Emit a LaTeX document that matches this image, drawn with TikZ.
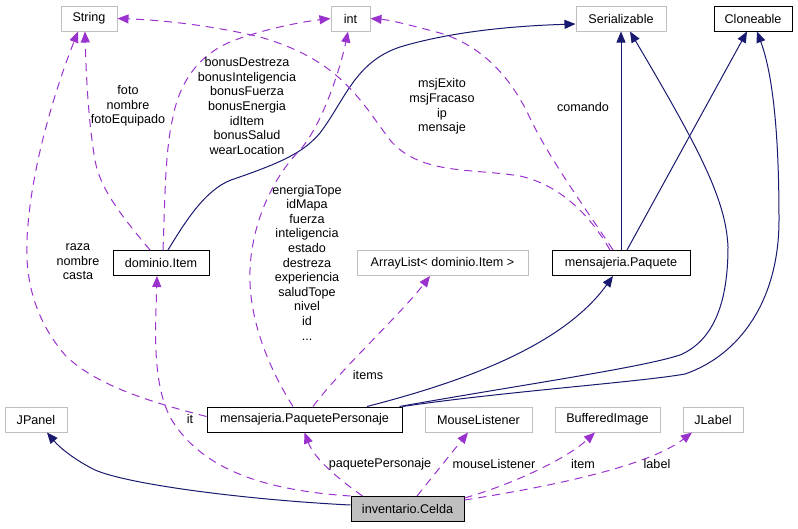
\documentclass[tikz,border=0pt]{standalone}
\usepackage{fontspec}
\setmainfont{Liberation Sans}
\usetikzlibrary{arrows.meta}
\definecolor{inhnavy}{RGB}{25,25,112}
\definecolor{useorchid}{RGB}{154,50,205}
\definecolor{extgray}{RGB}{191,191,191}

\begin{document}
\begin{tikzpicture}[x=1pt,y=-1pt,
  font=\fontsize{12.6}{14.6}\selectfont,
  cls/.style={draw=black,line width=1pt,fill=white,minimum height=25pt,inner sep=0pt},
  extcls/.style={draw=extgray,line width=1pt,fill=white,minimum height=25pt,inner sep=0pt},
  inh/.style={draw=inhnavy,line width=1pt,-{Triangle[length=11pt,width=9pt]}},
  usedby/.style={draw=useorchid,line width=1pt,dash pattern=on 8pt off 6pt,-{Triangle[length=11pt,width=9pt]}},
  lbl/.style={align=center,inner sep=0pt}]
  \useasboundingbox (0,0) rectangle (798,528);
  % classes
  \node[extcls,minimum width=56pt] (str) at (89,18.5) {String};
  \node[extcls,minimum width=39pt] (int) at (350.5,18.5) {int};
  \node[extcls,minimum width=90pt] (ser) at (621,18.5) {Serializable};
  \node[cls,minimum width=78pt] (clo) at (753,18.5) {Cloneable};
  \node[cls,minimum width=96pt] (item) at (161,263) {dominio.Item};
  \node[extcls,minimum width=171pt] (alist) at (442.5,263) {ArrayList< dominio.Item >};
  \node[cls,minimum width=138pt] (paq) at (621,263) {mensajeria.Paquete};
  \node[cls,minimum width=195pt] (pp) at (304.5,419.5) {mensajeria.PaquetePersonaje};
  \node[extcls,minimum width=62pt] (jpanel) at (36,419.5) {JPanel};
  \node[extcls,minimum width=107pt] (mouse) at (478.5,419.5) {MouseListener};
  \node[extcls,minimum width=105pt] (buff) at (607.5,419.5) {BufferedImage};
  \node[extcls,minimum width=60pt] (jlabel) at (713,419.5) {JLabel};
  \node[cls,fill=extgray,minimum width=113pt] (celda) at (407.5,509) {inventario.Celda};

  % dominio.Item
  \draw[inh] ([xshift=7pt]item.north) .. controls (185,222) and (205,190) .. (231,180) .. controls (290,160) and (305,150) .. (320,133) .. controls (345,100) and (355,62) .. (400,47) .. controls (450,32) and (510,26) .. ([yshift=-5.5pt]ser.west);
  \draw[usedby] ([xshift=-11pt]item.north) .. controls (125,220) and (100,190) .. (95,160) .. controls (88,120) and (86,70) .. ([xshift=-4pt]str.south);
  \draw[usedby] ([xshift=2pt]item.north) .. controls (165,200) and (165,150) .. (173,117) .. controls (180,80) and (200,55) .. (230,42) .. controls (260,30) and (300,22) .. (int.west);
  \node[lbl] (fotolbl) at (128,106) {foto\\nombre\\fotoEquipado};
  \node[lbl] (bonuslbl) at (247,106) {bonusDestreza\\bonusInteligencia\\bonusFuerza\\bonusEnergia\\idItem\\bonusSalud\\wearLocation};

  % mensajeria.Paquete
  \draw[inh] (paq.north) -- (ser.south);
  \draw[inh] ([xshift=6pt]paq.north) -- ([xshift=-6pt]clo.south);
  \draw[usedby] ([xshift=-11pt]paq.north) .. controls (590,215) and (560,185) .. (520,176) .. controls (470,168) and (420,175) .. (390,140) .. controls (360,100) and (340,60) .. (260,37) .. controls (210,25) and (160,20) .. (str.east);
  \draw[usedby] ([xshift=-8pt]paq.north) .. controls (590,215) and (550,160) .. (530,118) .. controls (510,75) and (480,45) .. (440,33) .. controls (410,25) and (390,20) .. (int.east);
  \node[lbl] (msjlbl) at (442,106.5) {msjExito\\msjFracaso\\ip\\mensaje};
  \node[lbl] (comandolbl) at (583,107) {comando};

  % mensajeria.PaquetePersonaje
  \draw[inh] ([xshift=62.5pt]pp.north) .. controls (450,385) and (560,350) .. ([xshift=-8pt]paq.south);
  \draw[inh] ([xshift=-3pt]pp.north east) .. controls (520,385) and (640,368) .. (680,355) .. controls (715,340) and (728,300) .. (728,247) .. controls (726,200) and (700,150) .. ([xshift=9pt]ser.south);
  \draw[inh] (pp.north east) .. controls (500,392) and (640,382) .. (685,374) .. controls (740,355) and (779,300) .. (779,220) .. controls (779,150) and (775,80) .. ([xshift=4pt]clo.south);
  \draw[usedby] ([yshift=3pt]pp.west) .. controls (150,402) and (95,385) .. (65,355) .. controls (35,320) and (25,280) .. (27,240) .. controls (30,170) and (55,90) .. ([xshift=-11pt]str.south);
  \draw[usedby] ([xshift=-11.5pt]pp.north) .. controls (270,370) and (248,320) .. (250,270) .. controls (252,220) and (275,175) .. (300,150) .. controls (322,125) and (340,70) .. ([xshift=-2.5pt]int.south);
  \draw[usedby] ([xshift=8.5pt]pp.north) .. controls (340,370) and (400,315) .. ([xshift=-12.5pt]alist.south);
  \node[lbl] (razalbl) at (78,262) {raza\\nombre\\casta};
  \node[lbl] (attrlbl) at (307,262.5) {energiaTope\\idMapa\\fuerza\\inteligencia\\estado\\destreza\\experiencia\\saludTope\\nivel\\id\\...};
  \node[lbl] (itemslbl) at (368,375) {items};

  % inventario.Celda
  \draw[inh] ([yshift=4pt]celda.west) .. controls (250,500) and (130,485) .. (95,470) .. controls (75,460) and (60,448) .. ([xshift=11pt]jpanel.south);
  \draw[usedby] (celda.north west) .. controls (260,490) and (205,468) .. (175,425) .. controls (150,390) and (156,320) .. ([xshift=-4pt]item.south);
  \draw[usedby] ([xshift=12pt]celda.north west) .. controls (340,480) and (315,460) .. (pp.south);
  \draw[usedby] ([xshift=9.5pt]celda.north) -- ([xshift=-10.5pt]mouse.south);
  \draw[usedby] ([yshift=11pt]celda.east) .. controls (510,485) and (565,460) .. ([xshift=-12.5pt]buff.south);
  \draw[usedby] ([yshift=9pt]celda.east) .. controls (560,485) and (650,465) .. ([xshift=-21pt]jlabel.south);
  \node[lbl] (itlbl) at (190,419) {it};
  \node[lbl] (pplbl) at (380,464) {paquetePersonaje};
  \node[lbl] (mouselbl) at (494,464) {mouseListener};
  \node[lbl] (itemlbl) at (583,464) {item};
  \node[lbl] (labellbl) at (657,464) {label};
\end{tikzpicture}
\end{document}
